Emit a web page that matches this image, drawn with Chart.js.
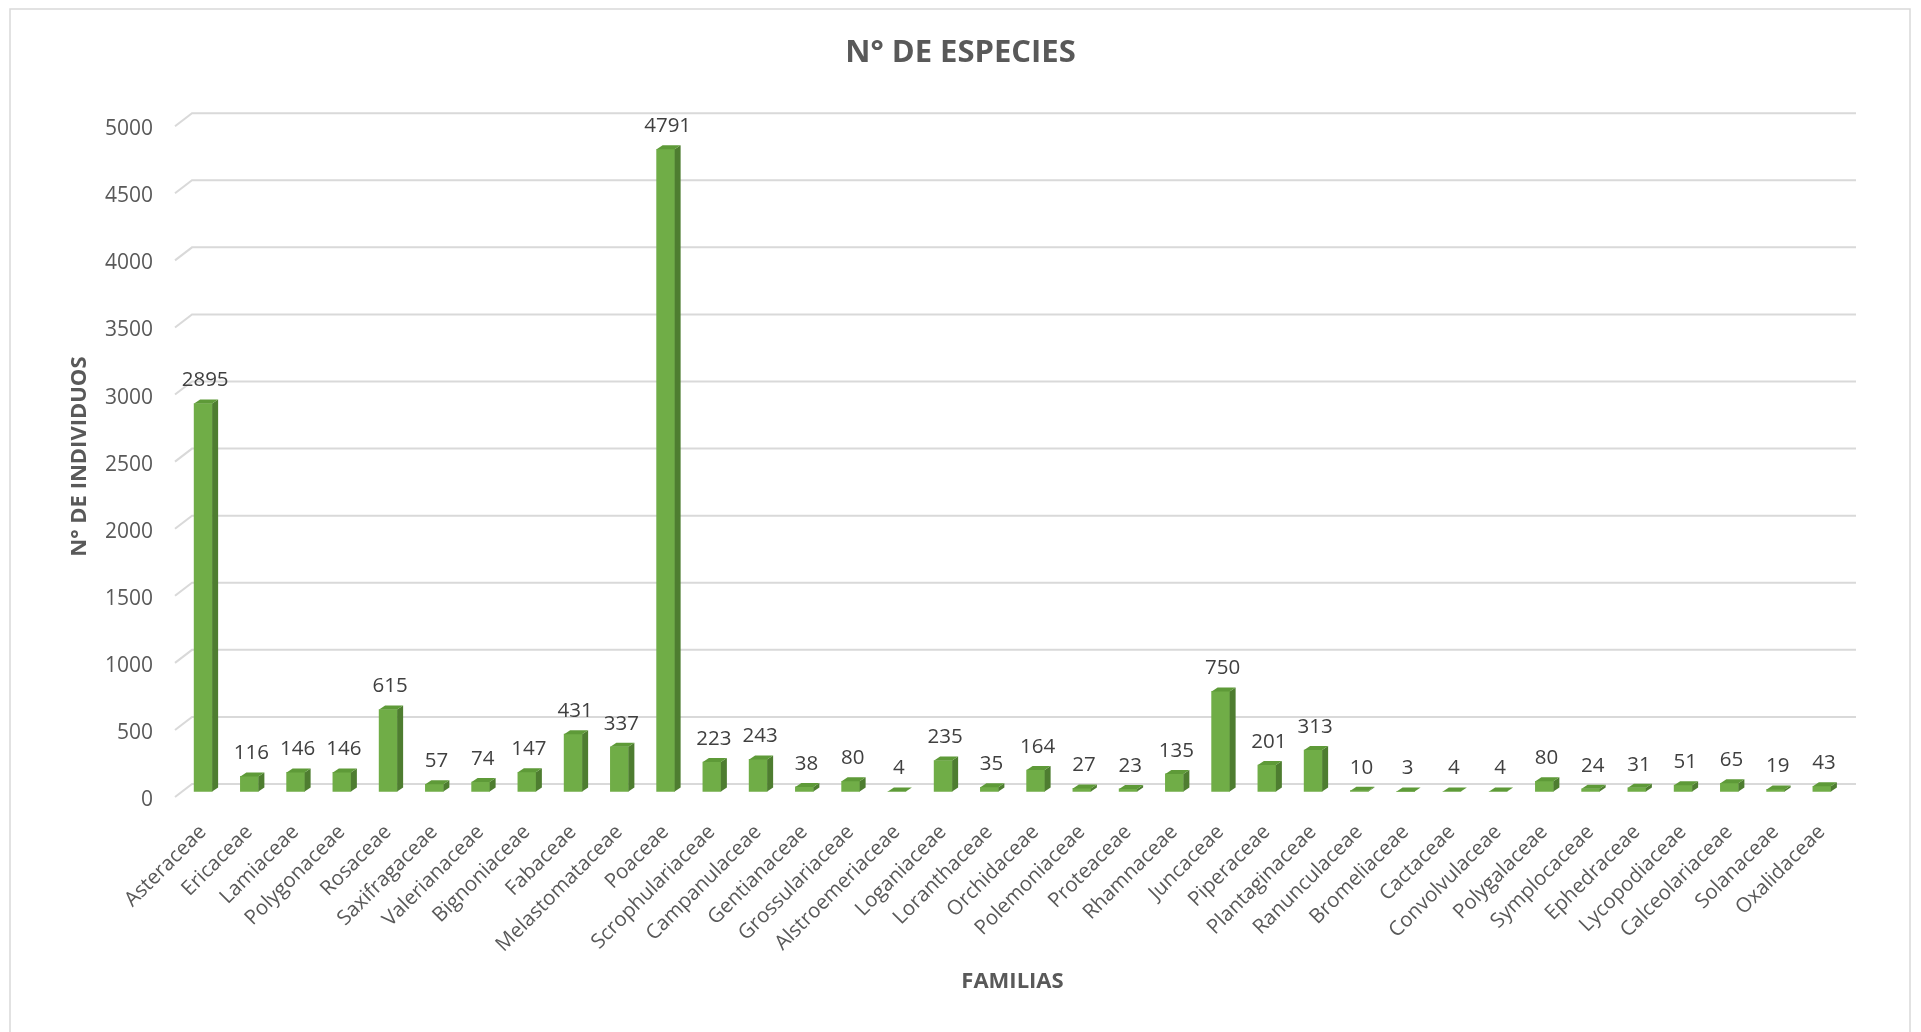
<!DOCTYPE html>
<html><head><meta charset="utf-8">
<style>html,body{margin:0;padding:0;background:#fff;overflow:hidden}</style>
<script src="https://cdn.jsdelivr.net/npm/chart.js@4.4.1/dist/chart.umd.min.js"></script>
</head><body>
<canvas id="c" width="1921" height="1032"></canvas>
<script>
const categories = ['Asteraceae','Ericaceae','Lamiaceae','Polygonaceae','Rosaceae','Saxifragaceae','Valerianaceae','Bignoniaceae','Fabaceae','Melastomataceae','Poaceae','Scrophulariaceae','Campanulaceae','Gentianaceae','Grossulariaceae','Alstroemeriaceae','Loganiaceae','Loranthaceae','Orchidaceae','Polemoniaceae','Proteaceae','Rhamnaceae','Juncaceae','Piperaceae','Plantaginaceae','Ranunculaceae','Bromeliaceae','Cactaceae','Convolvulaceae','Polygalaceae','Symplocaceae','Ephedraceae','Lycopodiaceae','Calceolariaceae','Solanaceae','Oxalidaceae'];
const individuos = [2895,116,146,146,615,57,74,147,431,337,4791,223,243,38,80,4,235,35,164,27,23,135,750,201,313,10,3,4,4,80,24,31,51,65,19,43];
const yMin = 0;
const yMax = 5000;
const yStep = 500;
const chartTitle = 'N° DE ESPECIES';
const xTitle = 'FAMILIAS';
const yTitle = 'N° DE INDIVIDUOS';

const FONT = "'Open Sans', 'DejaVu Sans', sans-serif";
const FRONT = '#70AD47', SIDE = '#4E7D30', TOP = '#5E9A38';
const GRID = '#D9D9D9';

const framePlugin = {
  id: 'frame',
  beforeDraw(chart) {
    const ctx = chart.ctx;
    ctx.save();
    ctx.fillStyle = '#fff';
    ctx.fillRect(0, 0, chart.width, chart.height);
    ctx.strokeStyle = GRID;
    ctx.lineWidth = 1.5;
    ctx.strokeRect(10, 9, 1900, 1100);
    ctx.restore();
  }
};

const backGridPlugin = {
  id: 'backGrid',
  beforeDatasetsDraw(chart) {
    const ctx = chart.ctx, ca = chart.chartArea, ys = chart.scales.y;
    ctx.save();
    ctx.strokeStyle = GRID;
    ctx.lineWidth = 2;
    ys.ticks.forEach(t => {
      const yb = ys.getPixelForValue(t.value) - 8;
      ctx.beginPath();
      ctx.moveTo(ca.left - 5, yb + 13);
      ctx.lineTo(ca.left + 12, yb);
      ctx.lineTo(ca.right + 11, yb);
      ctx.stroke();
    });
    ctx.restore();
  }
};

const bar3dPlugin = {
  id: 'bar3d',
  afterDatasetsDraw(chart) {
    const ctx = chart.ctx;
    const meta = chart.getDatasetMeta(0);
    const dx = 6, dy = -4;
    ctx.save();
    meta.data.forEach((bar, i) => {
      const p = bar.getProps(['x', 'y', 'base', 'width'], true);
      const l = p.x - p.width / 2, r = p.x + p.width / 2;
      const top = Math.min(p.y, p.base), base = Math.max(p.y, p.base);
      ctx.fillStyle = SIDE;
      ctx.beginPath();
      ctx.moveTo(r, top); ctx.lineTo(r + dx, top + dy);
      ctx.lineTo(r + dx, base + dy); ctx.lineTo(r, base);
      ctx.closePath(); ctx.fill();
      ctx.fillStyle = TOP;
      ctx.beginPath();
      ctx.moveTo(l, top); ctx.lineTo(l + dx, top + dy);
      ctx.lineTo(r + dx, top + dy); ctx.lineTo(r, top);
      ctx.closePath(); ctx.fill();
      ctx.fillStyle = '#404040';
      ctx.font = "20.5px " + FONT;
      ctx.textAlign = 'center';
      ctx.textBaseline = 'middle';
      ctx.fillText(String(individuos[i]), p.x + 2, top - 23);
    });
    ctx.restore();
  }
};

new Chart(document.getElementById('c'), {
  type: 'bar',
  data: {
    labels: categories,
    datasets: [{
      data: individuos,
      backgroundColor: FRONT,
      borderWidth: 0,
      barThickness: 18
    }]
  },
  options: {
    responsive: false,
    animation: false,
    devicePixelRatio: 1,
    layout: { padding: { left: 0, right: 0, top: 0, bottom: 0 } },
    plugins: {
      legend: { display: false },
      tooltip: { enabled: false },
      title: {
        display: true,
        text: chartTitle,
        color: '#595959',
        font: { family: FONT, size: 31, weight: 'bold', lineHeight: 1.2 },
        padding: { top: 35, bottom: 49 }
      }
    },
    scales: {
      x: {
        grid: { display: true, drawOnChartArea: false, drawTicks: false, color: 'rgba(0,0,0,0)' },
        border: { display: false },
        ticks: {
          autoSkip: false, maxRotation: 45, minRotation: 45,
          color: '#595959', padding: 28,
          font: { family: FONT, size: 20.5 }
        },
        title: {
          display: true, text: xTitle, color: '#595959',
          font: { family: FONT, size: 22, weight: 'bold', lineHeight: 1.2 },
          padding: { top: 37, bottom: 37 }
        },
        afterFit(scale) { scale.height = 240; }
      },
      y: {
        min: yMin, max: yMax,
        grid: { display: true, drawOnChartArea: false, drawTicks: false, color: 'rgba(0,0,0,0)' },
        border: { display: false },
        ticks: {
          stepSize: yStep, color: '#595959', padding: 27, labelOffset: 8,
          font: { family: FONT, size: 21 },
          callback: v => String(v)
        },
        title: {
          display: true, text: yTitle, color: '#595959',
          font: { family: FONT, size: 22, weight: 'bold', lineHeight: 1.2 },
          padding: { top: 67, bottom: 67 }
        },
        afterFit(scale) { scale.width = 180; }
      },
      yRight: {
        position: 'right', display: true,
        grid: { display: false }, border: { display: false },
        ticks: { display: false },
        afterFit(scale) { scale.width = 76; }
      }
    }
  },
  plugins: [framePlugin, backGridPlugin, bar3dPlugin]
});
</script>
</body></html>
